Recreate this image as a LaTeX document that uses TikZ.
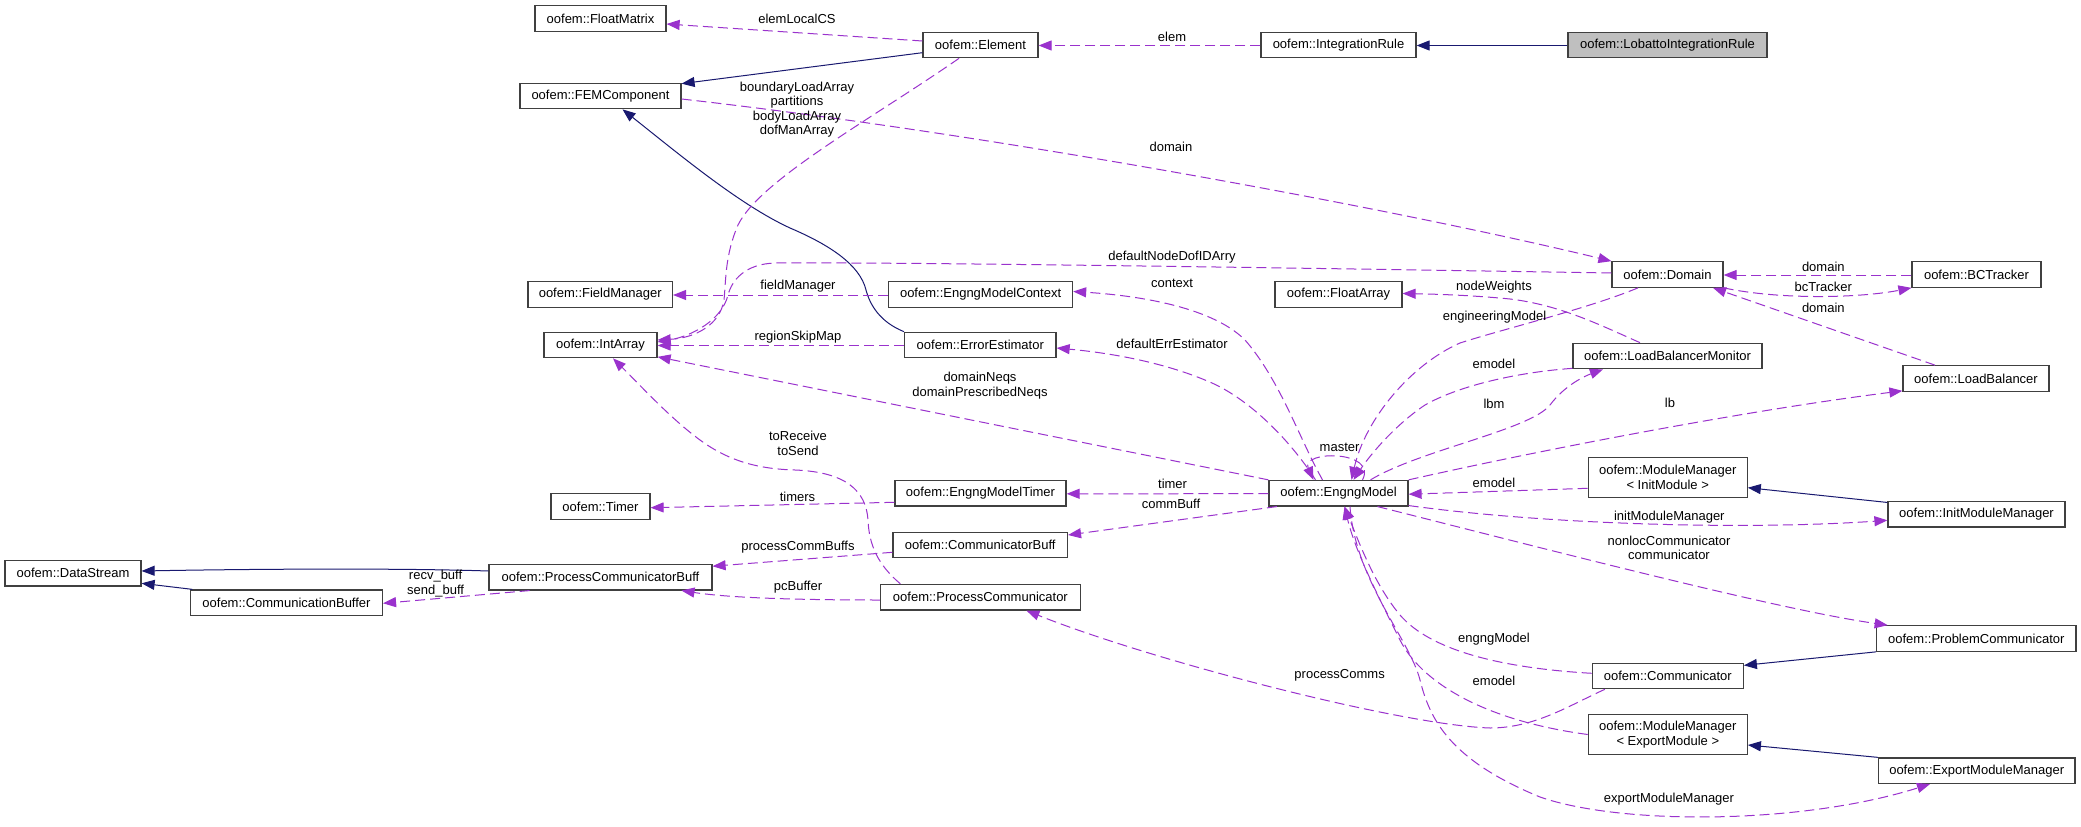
\documentclass[tikz,border=0pt]{standalone}
\usepackage{fontspec}
\setmainfont{Liberation Sans}
\usetikzlibrary{arrows.meta}
\definecolor{edgepurple}{HTML}{9A32CD}
\definecolor{inhnavy}{HTML}{191970}
\definecolor{boxgray}{HTML}{404040}
\definecolor{fillgray}{HTML}{BFBFBF}
\begin{document}
\begin{tikzpicture}[x=1pt,y=-1pt,
 cls/.style={draw=boxgray, line width=1.2pt, fill=white, inner sep=0pt, minimum height=25.5pt, align=center, font=\fontsize{13pt}{15pt}\selectfont},
 clstwo/.style={cls, minimum height=40pt},
 lbl/.style={inner sep=0pt, align=center, font=\fontsize{13pt}{14.5pt}\selectfont},
 use/.style={draw=edgepurple, line width=1pt, dash pattern=on 10pt off 5pt, -{Triangle[length=13pt,width=10pt]}},
 inh/.style={draw=inhnavy, line width=1pt, -{Triangle[length=13pt,width=10pt]}}]
\useasboundingbox[fill=white] (0,0) rectangle (2081,827);

% nodes
\node[cls, minimum width=131pt] (fm) at (600.5,18.5) {oofem::FloatMatrix};
\node[cls, minimum width=115pt] (el) at (980.5,45) {oofem::Element};
\node[cls, minimum width=161pt] (fem) at (600.5,96) {oofem::FEMComponent};
\node[cls, minimum width=155pt] (ir) at (1338.5,45) {oofem::IntegrationRule};
\node[cls, minimum width=199pt, fill=fillgray] (lob) at (1667.5,45) {oofem::LobattoIntegrationRule};
\node[cls, minimum width=111pt] (dom) at (1667.5,274.5) {oofem::Domain};
\node[cls, minimum width=129pt] (bct) at (1976.5,274.5) {oofem::BCTracker};
\node[cls, minimum width=144.5pt] (fmg) at (600.2,294.5) {oofem::FieldManager};
\node[cls, minimum width=184pt] (emc) at (980.6,294.5) {oofem::EngngModelContext};
\node[cls, minimum width=127pt] (fa) at (1338.5,294.5) {oofem::FloatArray};
\node[cls, minimum width=113pt] (ia) at (600.5,345) {oofem::IntArray};
\node[cls, minimum width=151.5pt] (ee) at (980.3,345) {oofem::ErrorEstimator};
\node[cls, minimum width=189pt] (lbm) at (1667.5,356) {oofem::LoadBalancerMonitor};
\node[cls, minimum width=146pt] (lb) at (1976,378.5) {oofem::LoadBalancer};
\node[cls, minimum width=99pt] (tm) at (600.5,506.5) {oofem::Timer};
\node[cls, minimum width=171pt] (emt) at (980.5,493.3) {oofem::EngngModelTimer};
\node[cls, minimum width=139pt] (em) at (1338.5,493.2) {oofem::EngngModel};
\node[clstwo, minimum width=159pt] (mmi) at (1667.7,477.3) {oofem::ModuleManager\\< InitModule >};
\node[cls, minimum width=177pt] (imm) at (1976.5,514.3) {oofem::InitModuleManager};
\node[cls, minimum width=174.5pt] (cb) at (980.2,545) {oofem::CommunicatorBuff};
\node[cls, minimum width=136pt] (ds) at (73,573.3) {oofem::DataStream};
\node[cls, minimum width=223pt] (pcb) at (600.5,577.2) {oofem::ProcessCommunicatorBuff};
\node[cls, minimum width=192pt] (cbuf) at (286.5,602.7) {oofem::CommunicationBuffer};
\node[cls, minimum width=200pt] (pc) at (980.4,597.2) {oofem::ProcessCommunicator};
\node[cls, minimum width=199.3pt] (prc) at (1976.3,638.5) {oofem::ProblemCommunicator};
\node[cls, minimum width=151pt] (com) at (1667.8,676) {oofem::Communicator};
\node[clstwo, minimum width=159pt] (mme) at (1667.8,734.5) {oofem::ModuleManager\\< ExportModule >};
\node[cls, minimum width=196.7pt] (emm) at (1976.7,770.7) {oofem::ExportModuleManager};

% inheritance
\draw[inh] ([yshift=-0.5pt]lob.west) -- ([yshift=-0.5pt]ir.east);
\draw[inh] ([yshift=-7.7pt]el.west) -- ([yshift=-1pt]fem.north east);
\draw[inh] (ee.north west) .. controls (880,322) and (870,305) .. (866,290) .. controls (860,265) and (830,245) .. (790,228) .. controls (740,205) and (680,155) .. ([xshift=22pt]fem.south);
\draw[inh] ([yshift=-1.5pt]imm.north west) -- ([yshift=-10.4pt]mmi.east);
\draw[inh] (prc.south west) -- ([yshift=-2.7pt]com.north east);
\draw[inh] (emm.north west) -- ([yshift=-10.5pt]mme.east);
\draw[inh] ([yshift=6.2pt]pcb.west) .. controls (400,568) and (250,569) .. ([yshift=2.3pt]ds.east);
\draw[inh] ([xshift=2.4pt]cbuf.north west) -- ([yshift=-10pt]ds.east);

% usage
\draw[use] ([yshift=4pt]el.west) -- ([yshift=-5.5pt]fm.east);
\node[lbl] (l1) at (797,19) {elemLocalCS};
\draw[use] ([yshift=-0.5pt]ir.west) -- ([yshift=-0.5pt]el.east);
\node[lbl] (l2) at (1172,37) {elem};
\draw[use] ([yshift=-3pt]fem.east) .. controls (1000,135) and (1400,210) .. (dom.north west);
\node[lbl] (l3) at (1171,147) {domain};
\draw[use] ([yshift=1.5pt]dom.west) .. controls (1300,268) and (900,262) .. (775,263) .. controls (745,264) and (732,280) .. (728,295) .. controls (722,320) and (692,336) .. ([yshift=3pt]ia.east);
\node[lbl] (l4) at (1172,257) {defaultNodeDofIDArry};
\draw[use] ([xshift=-21.5pt]el.south) .. controls (870,120) and (760,180) .. (738,225) .. controls (725,255) and (726,280) .. (724,300) .. controls (720,325) and (695,338) .. ([yshift=5pt]ia.east);
\node[lbl] (l5) at (797,109.5) {boundaryLoadArray\\partitions\\bodyLoadArray\\dofManArray};
\draw[use] ([yshift=-0.5pt]emc.west) -- ([yshift=-0.5pt]fmg.east);
\node[lbl] (l6) at (798,286) {fieldManager};
\draw[use] ([yshift=-0.5pt]ee.west) -- ([yshift=-0.5pt]ia.east);
\node[lbl] (l7) at (798,336.7) {regionSkipMap};
\draw[use] (em.north west) -- ([yshift=1.5pt]ia.south east);
\node[lbl] (l8) at (980,385.5) {domainNeqs\\domainPrescribedNeqs};
\draw[use] ([xshift=-80pt]pc.north) .. controls (878,565) and (869,545) .. (868,520) .. controls (866,490) and (845,472) .. (795,470) .. controls (760,469) and (730,462) .. (700,440) .. controls (670,418) and (640,385) .. ([xshift=12.5pt]ia.south);
\node[lbl] (l9) at (798,443.5) {toReceive\\toSend};
\draw[use] ([yshift=-9pt]emt.west) -- ([yshift=-1.2pt]tm.east);
\node[lbl] (l33) at (797.5,496.7) {timers};
\draw[use] ([xshift=-16pt]em.north) .. controls (1300,440) and (1280,380) .. (1245,340) .. controls (1210,305) and (1130,295) .. ([yshift=3pt]emc.east);
\node[lbl] (l10) at (1172,283.3) {context};
\draw[use] ([xshift=-23pt]em.north) .. controls (1290,440) and (1250,400) .. (1212,383) .. controls (1160,360) and (1100,352) .. ([yshift=-3pt]ee.east);
\node[lbl] (l11) at (1172,344) {defaultErrEstimator};
\draw[use] ([xshift=-29.5pt]dom.south) .. controls (1590,308) and (1500,330) .. (1460,343) .. controls (1410,365) and (1365,420) .. ([xshift=13pt]em.north);
\node[lbl] (l12) at (1494.5,316.7) {engineeringModel};
\draw[use] ([xshift=-27.5pt]lbm.north) .. controls (1600,325) and (1560,305) .. (1510,299) .. controls (1470,295) and (1430,294) .. ([yshift=1pt]fa.east);
\node[lbl] (l13) at (1494,286.7) {nodeWeights};
\draw[use] ([yshift=1pt]lbm.south west) .. controls (1520,372) and (1460,385) .. (1425,405) .. controls (1395,425) and (1370,455) .. ([xshift=15pt]em.north);
\node[lbl] (l14) at (1494,364.3) {emodel};
\draw[use] ([xshift=32pt]em.north) .. controls (1420,450) and (1530,430) .. (1550,405) .. controls (1565,385) and (1585,376) .. ([xshift=-64.5pt]lbm.south);
\node[lbl] (l15) at (1494,404.3) {lbm};
\draw[use] (em.north east) .. controls (1550,448) and (1750,410) .. ([yshift=1pt]lb.south west);
\node[lbl] (l16) at (1670,402.7) {lb};
\draw[use] ([xshift=-41pt]lb.north) -- ([xshift=45.5pt]dom.south);
\node[lbl] (l17) at (1823.3,308.3) {domain};
\draw[use] ([yshift=-0.5pt]bct.west) -- ([yshift=-0.5pt]dom.east);
\node[lbl] (l18) at (1823.3,266.7) {domain};
\draw[use] (dom.south east) .. controls (1780,300) and (1860,298) .. (bct.south west);
\node[lbl] (l19) at (1823.3,287.3) {bcTracker};
\draw[use] ([xshift=24pt]em.north) .. controls (1378,450) and (1300,450) .. ([xshift=-25pt]em.north);
\node[lbl] (l20) at (1339.6,447.7) {master};
\draw[use] ([yshift=-0.5pt]em.west) -- ([yshift=-0.5pt]emt.east);
\node[lbl] (l21) at (1172.6,484.3) {timer};
\draw[use] ([xshift=8.5pt]em.south west) -- ([yshift=10pt]cb.east);
\node[lbl] (l22) at (1171,504.3) {commBuff};
\draw[use] ([yshift=-11pt]mmi.west) -- ([yshift=-1pt]em.east);
\node[lbl] (l23) at (1494,483.3) {emodel};
\draw[use] ([yshift=1pt]em.south east) .. controls (1550,525) and (1750,530) .. ([yshift=-6pt]imm.west);
\node[lbl] (l24) at (1669.3,516.7) {initModuleManager};
\draw[use] ([xshift=39pt]em.south) .. controls (1550,550) and (1780,610) .. ([xshift=11.6pt]prc.north west);
\node[lbl] (l25) at (1669,548) {nonlocCommunicator\\communicator};
\draw[use] ([yshift=2.7pt]com.west) .. controls (1500,668) and (1430,650) .. (1400,615) .. controls (1375,585) and (1360,545) .. ([xshift=6pt]em.south);
\node[lbl] (l26) at (1494,639.3) {engngModel};
\draw[use] (mme.west) .. controls (1480,720) and (1420,680) .. (1400,640) .. controls (1375,590) and (1355,550) .. ([xshift=6pt]em.south);
\node[lbl] (l27) at (1494,680.7) {emodel};
\draw[use] ([xshift=-63pt]com.south) .. controls (1570,705) and (1535,728) .. (1490,728) .. controls (1400,725) and (1150,660) .. ([xshift=46pt]pc.south);
\node[lbl] (l28) at (1339.6,675.7) {processComms};
\draw[use] ([xshift=11.5pt]em.south) .. controls (1355,580) and (1410,640) .. (1420,680) .. controls (1430,720) and (1450,760) .. (1540,797) .. controls (1620,825) and (1800,825) .. ([xshift=-46.7pt]emm.south);
\node[lbl] (l29) at (1669,799.3) {exportModuleManager};
\draw[use] ([yshift=-7.3pt]cb.west) -- ([yshift=-2.4pt]pcb.north east);
\node[lbl] (l30) at (798,546.7) {processCommBuffs};
\draw[use] ([yshift=-2.8pt]pc.west) .. controls (800,600) and (730,598) .. ([xshift=81pt]pcb.south);
\node[lbl] (l31) at (798,587.3) {pcBuffer};
\draw[use] ([xshift=41.3pt]pcb.south west) -- ([yshift=-0.6pt]cbuf.east);
\node[lbl] (l32) at (435.6,583.5) {recv\_buff\\send\_buff};
\end{tikzpicture}
\end{document}
